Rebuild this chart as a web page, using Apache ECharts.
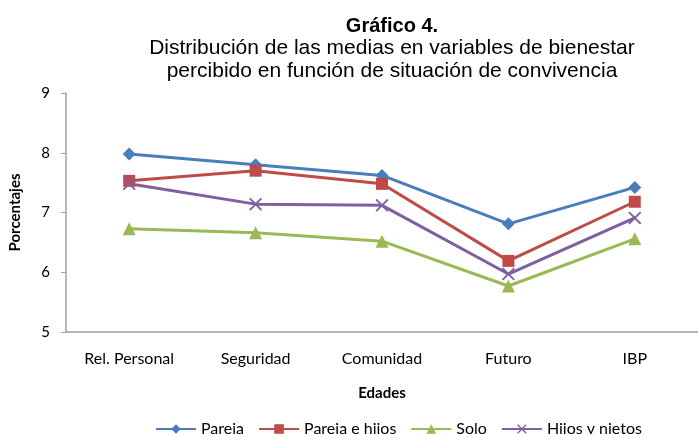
<!DOCTYPE html>
<html>
<head>
<meta charset="utf-8">
<script src="https://cdn.jsdelivr.net/npm/echarts@6/dist/echarts.min.js"></script>
<style>
  html, body { margin: 0; padding: 0; background: #fff; }
  #chart { width: 698px; height: 434px; }
</style>
</head>
<body>
<div id="chart"></div>
<script>
var categories = ['Rel. Personal', 'Seguridad', 'Comunidad', 'Futuro', 'IBP'];
var pareja = [7.98, 7.80, 7.62, 6.81, 7.42];
var parejaHijos = [7.53, 7.70, 7.48, 6.19, 7.18];
var solo = [6.73, 6.66, 6.52, 5.77, 6.56];
var hijosNietos = [7.48, 7.14, 7.12, 5.97, 6.91];

var crossPath = 'path://M0,1L1,0L5,4L9,0L10,1L6,5L10,9L9,10L5,6L1,10L0,9L4,5Z';

function makeSeries(name, data, color, symbol, size) {
    return {
        name: name,
        type: 'line',
        data: data,
        symbol: symbol,
        symbolSize: size,
        lineStyle: { color: color, width: 3 },
        itemStyle: { color: color },
        animation: false
    };
}

var myChart = echarts.init(document.getElementById('chart'));
myChart.setOption({
    backgroundColor: '#fff',
    title: {
        text: 'Gráfico 4.',
        subtext: 'Distribución de las medias en variables de bienestar\npercibido en función de situación de convivencia',
        left: 387,
        textAlign: 'center',
        top: 11,
        itemGap: 1,
        textStyle: { fontFamily: 'Liberation Sans', fontSize: 20, fontWeight: 'bold', color: '#000' },
        subtextStyle: { fontFamily: 'Liberation Sans', fontSize: 21, color: '#000', lineHeight: 23 }
    },
    legend: {
        top: 416,
        left: 150,
        itemWidth: 40,
        itemHeight: 12,
        itemGap: 14,
        textStyle: { fontFamily: 'Lato', fontSize: 16, color: '#000' },
        data: ['Pareja', 'Pareja e hijos', 'Solo', 'Hijos y nietos']
    },
    grid: { left: 66, right: -9, top: 93, bottom: 102, containLabel: false },
    xAxis: {
        type: 'category',
        data: categories,
        name: 'Edades',
        nameLocation: 'middle',
        nameGap: 54,
        nameTextStyle: { fontFamily: 'Lato', fontSize: 15, fontWeight: 'bold', color: '#000' },
        axisLine: { lineStyle: { color: '#a0a0a0', width: 1.5 } },
        axisTick: { length: 5, lineStyle: { color: '#a0a0a0' } },
        axisLabel: { fontFamily: 'Lato', fontSize: 16, color: '#000', margin: 19 }
    },
    yAxis: {
        type: 'value',
        min: 5,
        max: 9,
        interval: 1,
        name: 'Porcentajes',
        nameLocation: 'middle',
        nameGap: 43,
        nameTextStyle: { fontFamily: 'Lato', fontSize: 15, fontWeight: 'bold', color: '#000' },
        axisLine: { show: true, lineStyle: { color: '#a0a0a0', width: 1.5 } },
        axisTick: { show: true, length: 5, lineStyle: { color: '#a0a0a0' } },
        axisLabel: { fontFamily: 'Lato', fontSize: 15, color: '#000', margin: 16 },
        splitLine: { show: false }
    },
    series: [
        makeSeries('Pareja', pareja, '#4a7ebb', 'diamond', 13),
        makeSeries('Pareja e hijos', parejaHijos, '#be4b48', 'rect', 12),
        makeSeries('Solo', solo, '#98b954', 'triangle', 13),
        makeSeries('Hijos y nietos', hijosNietos, '#7d60a0', crossPath, 13)
    ]
});
</script>
</body>
</html>
